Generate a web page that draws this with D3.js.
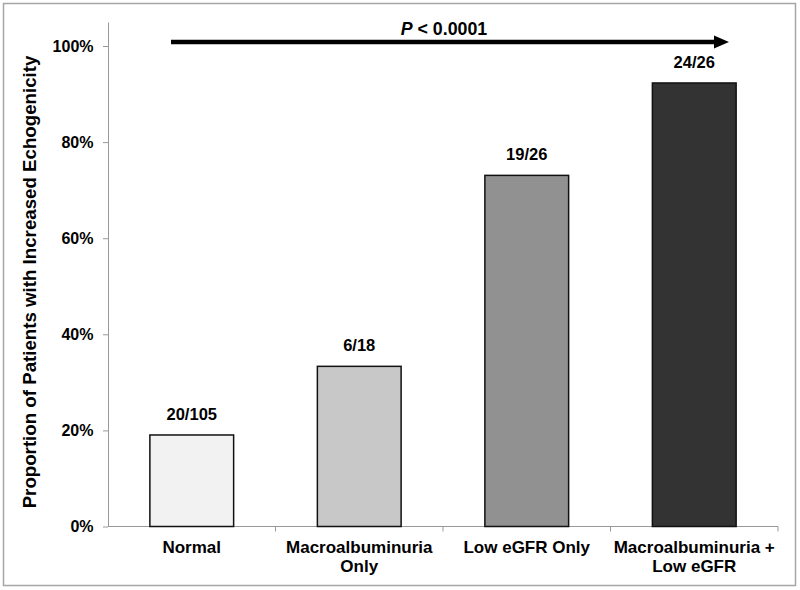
<!DOCTYPE html>
<html><head><meta charset="utf-8">
<script src="https://cdn.jsdelivr.net/npm/d3@7/dist/d3.min.js"></script>
<style>body{margin:0;background:#fff}svg{display:block;font-family:"Liberation Sans",Arial,sans-serif}</style>
</head><body><svg id="c" width="800" height="590"></svg>
<script>
const categories = [["Normal"], ["Macroalbuminuria", "Only"], ["Low eGFR Only"], ["Macroalbuminuria +", "Low eGFR"]];
const values = [20/105, 6/18, 19/26, 24/26];
const barLabels = ["20/105", "6/18", "19/26", "24/26"];
const colors = ["#f2f2f2", "#c8c8c8", "#919191", "#333333"];
const yTicks = [0, 0.2, 0.4, 0.6, 0.8, 1.0];
const yTitle = "Proportion of Patients with Increased Echogenicity";

const svg = d3.select("#c");
svg.append("rect").attr("x",3.5).attr("y",3.5).attr("width",792).attr("height",582)
  .attr("fill","#fff").attr("stroke","#a6a6a6").attr("stroke-width",1.5);

const x0 = 108, x1 = 778, yBase = 526.5;
const keys = categories.map((c,i)=>i);
const x = d3.scaleBand().domain(keys).range([x0,x1]).paddingInner(0.5).paddingOuter(0.25);
const xb = d3.scaleBand().domain(keys).range([x0,x1]);
const y = d3.scaleLinear().domain([0,1.05]).range([yBase, 22]);

// y axis
const yAxis = svg.append("g").attr("transform",`translate(${x0},0)`)
  .call(d3.axisLeft(y).tickValues(yTicks).tickFormat(d3.format(".0%")).tickSize(5).tickSizeOuter(0));
yAxis.select(".domain").attr("stroke","#999");
yAxis.selectAll(".tick line").attr("stroke","#999");
yAxis.selectAll(".tick text").attr("x",-14.5).attr("font-size",16).attr("font-weight","bold").attr("fill","#000")
  .attr("font-family","Liberation Sans, Arial, sans-serif");

// x axis with boundary ticks
const xAxisG = svg.append("g").attr("transform",`translate(0,${yBase})`);
xAxisG.append("line").attr("x1",x0).attr("x2",x1).attr("y1",0).attr("y2",0).attr("stroke","#999");
xAxisG.selectAll("line.bt").data(keys).enter().append("line").attr("class","bt")
  .attr("x1",d=>xb(d)+xb.bandwidth()).attr("x2",d=>xb(d)+xb.bandwidth()).attr("y1",0).attr("y2",5).attr("stroke","#999");

// bars
svg.selectAll("rect.bar").data(keys).enter().append("rect").attr("class","bar")
  .attr("x",d=>x(d)).attr("width",x.bandwidth())
  .attr("y",d=>y(values[d])).attr("height",d=>yBase-y(values[d]))
  .attr("fill",d=>colors[d]).attr("stroke","#111").attr("stroke-width",1.5);

// bar labels
svg.selectAll("text.bl").data(keys).enter().append("text").attr("class","bl")
  .attr("x",d=>x(d)+x.bandwidth()/2).attr("y",d=>y(values[d])-15)
  .attr("text-anchor","middle").attr("font-size",16.5).attr("font-weight","bold").text(d=>barLabels[d]);

// category labels
const cl = svg.selectAll("text.cl").data(keys).enter().append("text").attr("class","cl")
  .attr("text-anchor","middle").attr("font-size",17).attr("font-weight","bold");
cl.each(function(d){
  const t = d3.select(this);
  categories[d].forEach((line,j)=>{
    t.append("tspan").attr("x",xb(d)+xb.bandwidth()/2).attr("y",yBase+26+j*19).text(line);
  });
});

// y title
svg.append("text").attr("transform",`translate(36,282) rotate(-90)`)
  .attr("text-anchor","middle").attr("font-size",18.7).attr("font-weight","bold").text(yTitle);

// trend arrow
const ay = 42;
svg.append("line").attr("x1",171).attr("x2",716).attr("y1",ay).attr("y2",ay).attr("stroke","#000").attr("stroke-width",4.5);
svg.append("path").attr("d",`M714,${ay-6.5}L729,${ay}L714,${ay+6.5}Z`).attr("fill","#000");
const pt = svg.append("text").attr("x",444).attr("y",35).attr("text-anchor","middle").attr("font-size",17.8).attr("font-weight","bold");
pt.append("tspan").attr("font-style","italic").text("P");
pt.append("tspan").text(" < 0.0001");
</script></body></html>
